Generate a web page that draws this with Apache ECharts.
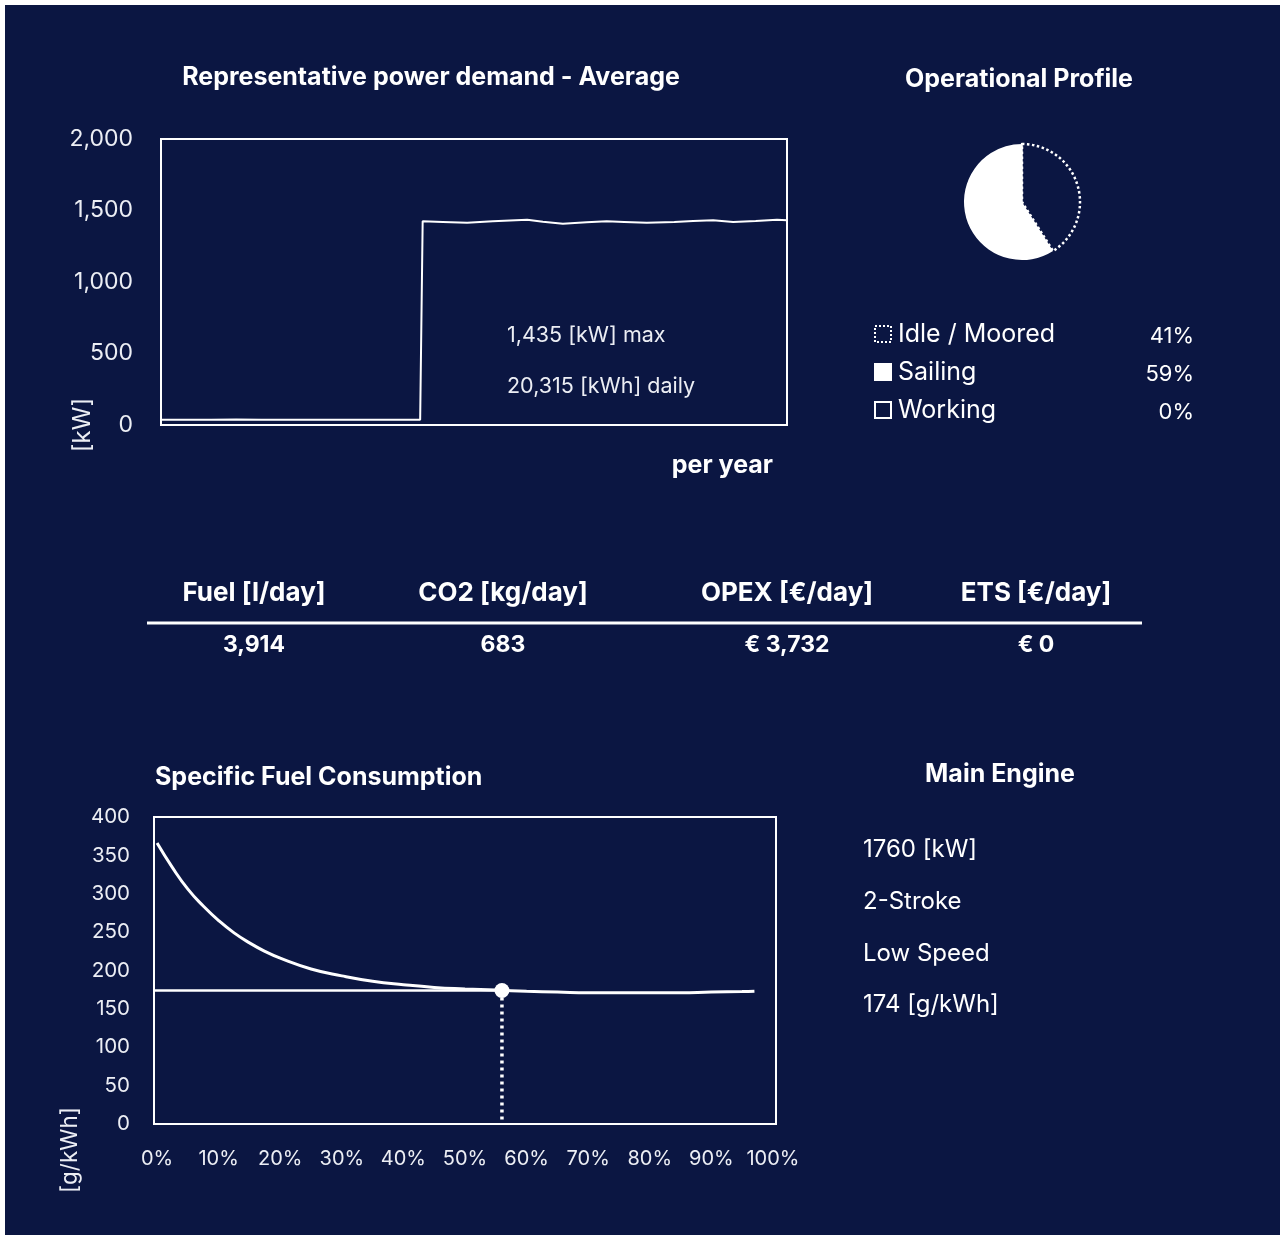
<!DOCTYPE html>
<html>
<head>
<meta charset="utf-8">
<script src="https://cdn.jsdelivr.net/npm/echarts@6/dist/echarts.min.js"></script>
<style>
  html, body { margin: 0; padding: 0; background: #ffffff; }
  #panel { position: absolute; left: 5px; top: 5px; width: 1275px; height: 1230px; background: #0b1642; }
  #chart { position: absolute; left: 0; top: 0; width: 1280px; height: 1235px; }
</style>
</head>
<body>
<div id="panel"></div>
<div id="chart"></div>
<script>
// Representative power demand over one year: position in year [%] and load [kW]
const demandPct = [0, 4, 8, 12, 16, 20, 24, 28, 32, 36, 40, 41.4,
                   41.8, 45, 48.9, 53, 58.5, 61, 64.2, 68, 71.2, 74, 77.6, 82, 85, 88.2, 91.4, 95, 98.4, 100];
const demandKw  = [37, 36, 37, 38, 37, 36, 37, 36, 37, 36, 37, 36,
                   1425, 1420, 1414, 1425, 1435, 1422, 1407, 1418, 1425, 1420, 1414, 1420, 1426, 1432, 1420, 1426, 1435, 1432];
const powerTicks = [0, 500, 1000, 1500, 2000];
const demandNotes = ['1,435 [kW] max', '20,315 [kWh] daily'];

// Operational profile
const profileNames  = ['Idle / Moored', 'Sailing', 'Working'];
const profileShares = [41, 59, 0];

// Daily key figures
const kpiHeaders = ['Fuel [l/day]', 'CO2 [kg/day]', 'OPEX [€/day]', 'ETS [€/day]'];
const kpiValues  = ['3,914', '683', '€ 3,732', '€ 0'];

// Specific fuel consumption curve: engine load [%] and SFC [g/kWh]
const sfcLoad  = [0, 2.5, 5, 7.5, 10, 12.5, 15, 17.5, 20, 25, 30, 35, 40, 45, 50, 55, 60, 65, 70, 75, 80, 85, 90, 95, 97];
const sfcValue = [366, 334, 306, 284, 265, 249, 236, 225, 216, 202, 193, 186, 181.5, 178, 176, 174.5, 173, 172, 171, 171, 171, 171, 172, 172.5, 173];
const loadTicks = [0, 10, 20, 30, 40, 50, 60, 70, 80, 90, 100];
const sfcTicks  = [0, 50, 100, 150, 200, 250, 300, 350, 400];
const opLoad = 56;   // operating point load [%]
const opSfc  = 174;  // operating point SFC [g/kWh]

// Main engine
const engineSpecs = ['1760 [kW]', '2-Stroke', 'Low Speed', '174 [g/kWh]'];

const NAVY = '#0b1642';
const WHITE = '#ffffff';
const LABEL = '#eceef4';
const FONT = "Inter, 'Noto Sans', sans-serif";

function txt(text, x, y, opt) {
  opt = opt || {};
  return {
    type: 'text', x: x, y: y, rotation: opt.rotation || 0, silent: true, z: 10,
    style: {
      text: text, fill: opt.fill || WHITE,
      font: (opt.weight || 'normal') + ' ' + (opt.size || 22) + 'px ' + FONT,
      textAlign: opt.align || 'left', textVerticalAlign: 'middle'
    }
  };
}

const graphics = [];
// titles
graphics.push(txt('Representative power demand - Average', 431, 77, { weight: 'bold', size: 25, align: 'center' }));
graphics.push(txt('Operational Profile', 1019, 79, { weight: 'bold', size: 25, align: 'center' }));
graphics.push(txt('Specific Fuel Consumption', 155, 777, { weight: 'bold', size: 25 }));
graphics.push(txt('Main Engine', 1000, 774, { weight: 'bold', size: 25, align: 'center' }));
// power demand notes
graphics.push(txt(demandNotes[0], 507, 336, { size: 21.5, fill: LABEL }));
graphics.push(txt(demandNotes[1], 507, 387, { size: 21.5, fill: LABEL }));
graphics.push(txt('per year', 773, 465, { weight: 'bold', size: 25, align: 'right' }));
graphics.push(txt('[kW]', 83, 425, { size: 24, align: 'center', rotation: Math.PI / 2, fill: LABEL }));
graphics.push(txt('[g/kWh]', 70, 1150, { size: 22.5, align: 'center', rotation: Math.PI / 2, fill: LABEL }));

// operational profile legend
const legendY = [334, 372, 410];
profileNames.forEach(function (name, i) {
  const y = legendY[i];
  const icon = { type: 'rect', shape: { x: 875, y: y - 8, width: 16, height: 16 }, silent: true, z: 10,
                 style: { fill: 'none', stroke: WHITE, lineWidth: 2 } };
  if (i === 0) { icon.style.lineDash = [2, 2]; }
  if (i === 1) { icon.style.fill = WHITE; }
  graphics.push(icon);
  graphics.push(txt(name, 898, y, { size: 25 }));
  graphics.push(txt(profileShares[i] + '%', 1194, y + 2, { size: 22, align: 'right' }));
});

// key figures table
const kpiX = [254, 503, 787, 1036];
kpiHeaders.forEach(function (h, i) {
  graphics.push(txt(h, kpiX[i], 593, { weight: 'bold', size: 26, align: 'center' }));
  graphics.push(txt(kpiValues[i], kpiX[i], 645, { weight: 'bold', size: 23, align: 'center' }));
});
graphics.push({ type: 'line', silent: true, z: 10, shape: { x1: 147, y1: 623, x2: 1142, y2: 623 },
                style: { stroke: WHITE, lineWidth: 3 } });

// main engine specs
const specY = [850, 902, 954, 1005];
engineSpecs.forEach(function (s, i) {
  graphics.push(txt(s, 863, specY[i], { size: 24 }));
});

const chart = echarts.init(document.getElementById('chart'), null, { renderer: 'canvas' });

const fmtThousands = function (v) { return Number(v).toLocaleString('en-US'); };

chart.setOption({
  backgroundColor: 'transparent',
  animation: false,
  textStyle: { fontFamily: FONT },
  grid: [
    { left: 161, top: 139, width: 626, height: 286, show: true, borderColor: WHITE, borderWidth: 2, backgroundColor: 'transparent' },
    { left: 154, top: 817, width: 622, height: 307, show: true, borderColor: WHITE, borderWidth: 2, backgroundColor: 'transparent' }
  ],
  xAxis: [
    { type: 'value', gridIndex: 0, min: 0, max: 100,
      axisLine: { show: false }, axisTick: { show: false }, axisLabel: { show: false }, splitLine: { show: false } },
    { type: 'value', gridIndex: 1, min: -0.5, max: 100.5,
      axisLine: { show: false }, axisTick: { show: false }, splitLine: { show: false },
      axisLabel: { customValues: loadTicks, formatter: function (v) { return Math.round(v) + '%'; },
                   color: LABEL, fontSize: 20, margin: 25 } }
  ],
  yAxis: [
    { type: 'value', gridIndex: 0, min: powerTicks[0], max: powerTicks[powerTicks.length - 1], interval: 500,
      axisLine: { show: false }, axisTick: { show: false }, splitLine: { show: false },
      axisLabel: { formatter: fmtThousands, color: LABEL, fontSize: 23, margin: 28 } },
    { type: 'value', gridIndex: 1, min: sfcTicks[0], max: sfcTicks[sfcTicks.length - 1], interval: 50,
      axisLine: { show: false }, axisTick: { show: false }, splitLine: { show: false },
      axisLabel: { color: LABEL, fontSize: 20.5, margin: 24 } }
  ],
  series: [
    { type: 'line', xAxisIndex: 0, yAxisIndex: 0, symbol: 'none', silent: true,
      lineStyle: { color: WHITE, width: 2 },
      data: demandPct.map(function (p, i) { return [p, demandKw[i]]; }) },
    { type: 'line', xAxisIndex: 1, yAxisIndex: 1, symbol: 'none', smooth: 0.5, silent: true,
      lineStyle: { color: WHITE, width: 3 },
      data: sfcLoad.map(function (l, i) { return [l, sfcValue[i]]; }) },
    { type: 'line', xAxisIndex: 1, yAxisIndex: 1, symbol: 'none', silent: true,
      lineStyle: { color: WHITE, width: 2.5 },
      data: [[-0.5, opSfc], [opLoad, opSfc]] },
    { type: 'line', xAxisIndex: 1, yAxisIndex: 1, symbol: 'none', silent: true,
      lineStyle: { color: WHITE, width: 3.5, type: [3, 4] },
      data: [[opLoad, opSfc], [opLoad, 0]] },
    { type: 'scatter', xAxisIndex: 1, yAxisIndex: 1, symbol: 'circle', symbolSize: 15, silent: true,
      itemStyle: { color: WHITE, opacity: 1 }, data: [[opLoad, opSfc]], z: 5 },
    { type: 'pie', center: [1022, 202], radius: 58, startAngle: 90, clockwise: true, silent: true,
      label: { show: false }, labelLine: { show: false }, emphasis: { disabled: true },
      data: profileNames.map(function (n, i) {
        const styles = [
          { color: NAVY, borderColor: WHITE, borderWidth: 2.5, borderType: [2.5, 2.5] },
          { color: WHITE, borderColor: WHITE, borderWidth: 0 },
          { color: WHITE, borderColor: WHITE, borderWidth: 1.5 }
        ];
        return { name: n, value: profileShares[i], itemStyle: styles[i] };
      }) }
  ],
  graphic: graphics
});
</script>
</body>
</html>
